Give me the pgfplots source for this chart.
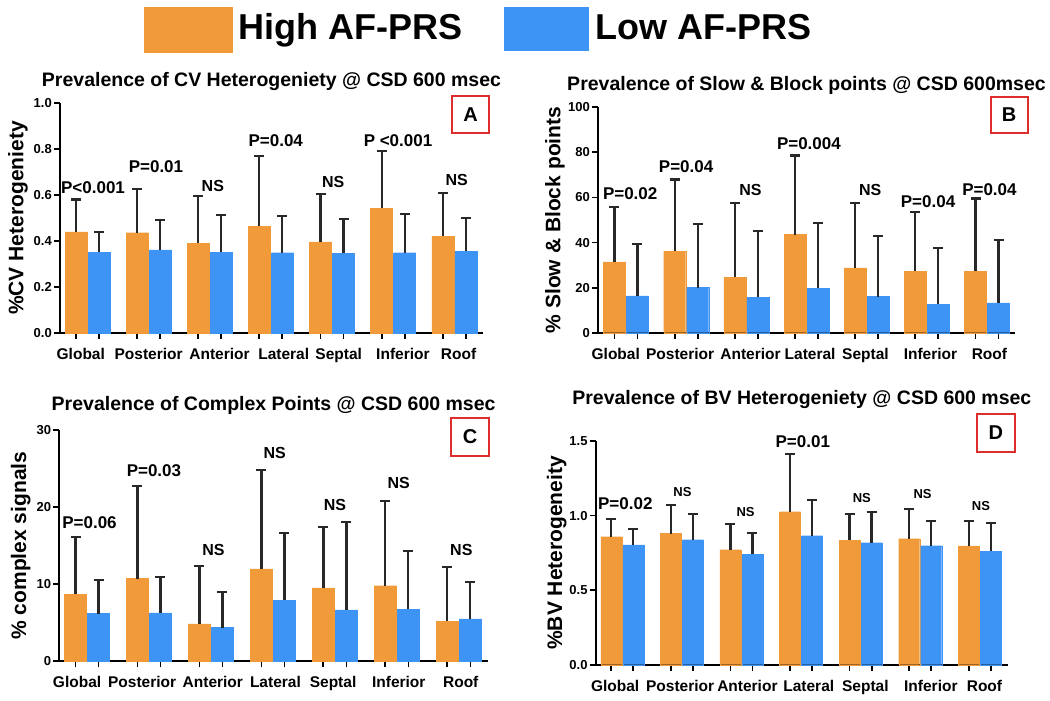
\documentclass[border=0pt]{standalone}
\usepackage{fontspec}
\setmainfont{Liberation Sans}
\usepackage{pgfplots}
\pgfplotsset{compat=1.18}
\definecolor{barorange}{RGB}{240,154,58}
\definecolor{barblue}{RGB}{62,148,245}
\definecolor{boxred}{RGB}{222,45,45}
\definecolor{errgray}{RGB}{40,40,40}
\newcommand{\fs}[1]{\fontsize{#1}{#1}\selectfont\bfseries}

\pgfplotsset{
  panel/.style={
    scale only axis,
    anchor=south west,
    axis lines=left,
    axis line style={line width=1.8pt, -},
    enlargelimits=false,
    clip=false,
    ymin=0,
    ybar=1pt,
    bar width=22pt,
    tick align=outside,
    major tick length=6pt,
    tick style={line width=1.8pt, black},
    xticklabels={},
    extra x tick labels={Global,Posterior,Anterior,Lateral,Septal,Inferior,Roof},
    extra x tick style={major tick length=0pt, grid=none},
    xticklabel style={anchor=north, inner sep=0pt, yshift=-15pt, font=\fs{15.5}},
    yticklabel style={anchor=east, inner sep=0pt, xshift=-2pt, font=\fs{13}},
    /pgf/number format/assume math mode=true,
    title style={at={(axis description cs:0.5,1)}, anchor=center, font=\fs{19.5}},
    ylabel style={anchor=center, font=\fs{21}},
  },
  ebars/.style={
    error bars/.cd, y dir=plus, y explicit,
    error bar style={draw=errgray, line width=2.2pt},
    error mark options={rotate=90, draw=errgray, line width=2.2pt, mark size=5pt},
  },
}

\begin{document}
\begin{tikzpicture}
\useasboundingbox (0,0) rectangle (1050pt,701pt);

% ---------- Legend ----------
\fill[barorange] (144pt,648pt) rectangle (233pt,694pt);
\node[anchor=base west, inner sep=0pt, font=\fs{36}] at (238pt,661pt) {High AF-PRS};
\fill[barblue] (504pt,650pt) rectangle (589pt,694pt);
\node[anchor=base west, inner sep=0pt, font=\fs{36}] at (595pt,661pt) {Low AF-PRS};

% ---------- Panel A ----------
\begin{axis}[panel, at={(60pt,368pt)}, width=423pt, height=230pt,
  xmin=-0.45, xmax=6.47, ymax=1,
  ytick={0,0.2,0.4,0.6,0.8,1.0},
  yticklabel style={/pgf/number format/.cd, fixed, fixed zerofill, precision=1},
  xtick={-0.188,0.188,0.812,1.188,1.812,2.188,2.812,3.188,3.812,4.188,4.812,5.188,5.812,6.188},
  extra x ticks={-0.11,1,2.16,3.21,4.11,5.16,6.07},
  title={Prevalence of CV Heterogeniety @ CSD 600 msec},
  title style={yshift=15pt},
  ylabel={\%CV Heterogeniety},
  ylabel style={at={(axis description cs:-0.0993,0.5)}},
]
\addplot[fill=barorange, draw=barorange, line width=0.3pt, ebars] coordinates {
 (0,0.440) +- (0,0.140)
 (1,0.436) +- (0,0.189)
 (2,0.391) +- (0,0.203)
 (3,0.464) +- (0,0.307)
 (4,0.396) +- (0,0.208)
 (5,0.543) +- (0,0.250)
 (6,0.420) +- (0,0.187)
};
\addplot[fill=barblue, draw=barblue, line width=0.3pt, ebars] coordinates {
 (0,0.351) +- (0,0.089)
 (1,0.361) +- (0,0.130)
 (2,0.351) +- (0,0.162)
 (3,0.349) +- (0,0.160)
 (4,0.346) +- (0,0.150)
 (5,0.349) +- (0,0.168)
 (6,0.355) +- (0,0.145)
};
\node[font=\fs{17}, inner sep=0pt] at (axis cs:0.09,0.63) {P<0.001};
\node[font=\fs{17}, inner sep=0pt] at (axis cs:1.12,0.725) {P=0.01};
\node[font=\fs{16}, inner sep=0pt] at (axis cs:2.05,0.64) {NS};
\node[font=\fs{17}, inner sep=0pt] at (axis cs:3.08,0.838) {P=0.04};
\node[font=\fs{16}, inner sep=0pt] at (axis cs:4.02,0.655) {NS};
\node[font=\fs{17}, inner sep=0pt] at (axis cs:5.08,0.838) {P <0.001};
\node[font=\fs{16}, inner sep=0pt] at (axis cs:6.04,0.664) {NS};
\end{axis}

% ---------- Panel B ----------
\begin{axis}[panel, at={(598pt,368.3pt)}, width=417pt, height=225.4pt,
  xmin=-0.465, xmax=6.465, ymax=100,
  ytick={0,20,40,60,80,100},
  xtick={-0.191,0.191,0.809,1.191,1.809,2.191,2.809,3.191,3.809,4.191,4.809,5.191,5.809,6.191},
  extra x ticks={-0.17,0.90,2.07,3.06,3.98,5.06,6.04},
  title={Prevalence of Slow \& Block points @ CSD 600msec},
  title style={yshift=16pt},
  ylabel={\% Slow \& Block points},
  ylabel style={at={(axis description cs:-0.103,0.5)}},
]
\addplot[fill=barorange, draw=barorange, line width=0.3pt, ebars] coordinates {
 (0,31.4) +- (0,24.5)
 (1,36.2) +- (0,31.8)
 (2,24.7) +- (0,33.0)
 (3,43.5) +- (0,35.1)
 (4,28.8) +- (0,28.6)
 (5,27.2) +- (0,26.4)
 (6,27.2) +- (0,32.3)
};
\addplot[fill=barblue, draw=barblue, line width=0.3pt, ebars] coordinates {
 (0,16.3) +- (0,23.2)
 (1,20.0) +- (0,28.1)
 (2,15.8) +- (0,29.3)
 (3,19.8) +- (0,29.0)
 (4,16.0) +- (0,27.0)
 (5,12.6) +- (0,24.8)
 (6,13.2) +- (0,27.8)
};
\node[font=\fs{17}, inner sep=0pt] at (axis cs:0.07,61.8) {P=0.02};
\node[font=\fs{17}, inner sep=0pt] at (axis cs:1.0,73.7) {P=0.04};
\node[font=\fs{16}, inner sep=0pt] at (axis cs:2.07,63.3) {NS};
\node[font=\fs{17}, inner sep=0pt] at (axis cs:3.04,84.0) {P=0.004};
\node[font=\fs{16}, inner sep=0pt] at (axis cs:4.06,63.3) {NS};
\node[font=\fs{17}, inner sep=0pt] at (axis cs:5.02,58.1) {P=0.04};
\node[font=\fs{17}, inner sep=0pt] at (axis cs:6.04,63.3) {P=0.04};
\end{axis}

% ---------- Panel C ----------
\begin{axis}[panel, at={(59.3pt,39.7pt)}, width=428.7pt, height=231.3pt,
  xmin=-0.447, xmax=6.47, ymax=30,
  ytick={0,10,20,30},
  xtick={-0.186,0.186,0.814,1.186,1.814,2.186,2.814,3.186,3.814,4.186,4.814,5.186,5.814,6.186},
  extra x ticks={-0.16,0.89,2.03,3.04,3.97,5.03,6.03},
  title={Prevalence of Complex Points @ CSD 600 msec},
  title style={yshift=19pt},
  ylabel={\% complex signals},
  ylabel style={at={(axis description cs:-0.090,0.5)}},
]
\addplot[fill=barorange, draw=barorange, line width=0.3pt, ebars] coordinates {
 (0,8.69) +- (0,7.39)
 (1,10.72) +- (0,11.98)
 (2,4.84) +- (0,7.48)
 (3,11.98) +- (0,12.82)
 (4,9.51) +- (0,7.87)
 (5,9.81) +- (0,10.94)
 (6,5.19) +- (0,7.05)
};
\addplot[fill=barblue, draw=barblue, line width=0.3pt, ebars] coordinates {
 (0,6.18) +- (0,4.32)
 (1,6.27) +- (0,4.67)
 (2,4.37) +- (0,4.58)
 (3,7.91) +- (0,8.74)
 (4,6.66) +- (0,11.37)
 (5,6.74) +- (0,7.53)
 (6,5.49) +- (0,4.76)
};
\node[font=\fs{17}, inner sep=0pt] at (axis cs:0.04,17.98) {P=0.06};
\node[font=\fs{17}, inner sep=0pt] at (axis cs:1.08,24.7) {P=0.03};
\node[font=\fs{16}, inner sep=0pt] at (axis cs:2.04,14.44) {NS};
\node[font=\fs{16}, inner sep=0pt] at (axis cs:3.03,27.07) {NS};
\node[font=\fs{16}, inner sep=0pt] at (axis cs:4.0,20.28) {NS};
\node[font=\fs{16}, inner sep=0pt] at (axis cs:5.03,23.09) {NS};
\node[font=\fs{16}, inner sep=0pt] at (axis cs:6.04,14.44) {NS};
\end{axis}

% ---------- Panel D ----------
\begin{axis}[panel, at={(595.7pt,36.3pt)}, width=412.3pt, height=223.7pt,
  xmin=-0.447, xmax=6.475, ymax=1.5,
  bar width=21pt,
  ytick={0,0.5,1.0,1.5},
  yticklabel style={/pgf/number format/.cd, fixed, fixed zerofill, precision=1},
  xtick={-0.185,0.185,0.815,1.185,1.815,2.185,2.815,3.185,3.815,4.185,4.815,5.185,5.815,6.185},
  extra x ticks={-0.12,0.97,2.10,3.13,4.08,5.18,6.08},
  title={Prevalence of BV Heterogeniety @ CSD 600 msec},
  title style={yshift=35pt},
  ylabel={\%BV Heterogeneity},
  ylabel style={at={(axis description cs:-0.0946,0.5)}},
]
\addplot[fill=barorange, draw=barorange, line width=0.3pt, ebars] coordinates {
 (0,0.858) +- (0,0.119)
 (1,0.879) +- (0,0.194)
 (2,0.771) +- (0,0.170)
 (3,1.026) +- (0,0.385)
 (4,0.836) +- (0,0.174)
 (5,0.845) +- (0,0.197)
 (6,0.796) +- (0,0.165)
};
\addplot[fill=barblue, draw=barblue, line width=0.3pt, ebars] coordinates {
 (0,0.803) +- (0,0.105)
 (1,0.838) +- (0,0.172)
 (2,0.740) +- (0,0.145)
 (3,0.865) +- (0,0.242)
 (4,0.818) +- (0,0.208)
 (5,0.798) +- (0,0.168)
 (6,0.760) +- (0,0.192)
};
\node[font=\fs{17}, inner sep=0pt] at (axis cs:0.05,1.082) {P=0.02};
\node[font=\fs{13}, inner sep=0pt] at (axis cs:1.01,1.156) {NS};
\node[font=\fs{13}, inner sep=0pt] at (axis cs:2.07,1.022) {NS};
\node[font=\fs{17}, inner sep=0pt] at (axis cs:3.03,1.496) {P=0.01};
\node[font=\fs{13}, inner sep=0pt] at (axis cs:4.02,1.12) {NS};
\node[font=\fs{13}, inner sep=0pt] at (axis cs:5.04,1.142) {NS};
\node[font=\fs{13}, inner sep=0pt] at (axis cs:6.02,1.066) {NS};
\end{axis}

% ---------- Panel letters ----------
\draw[boxred, line width=1.7pt] (452pt,568pt) rectangle (489pt,605pt);
\node[font=\fs{20}] at (470.5pt,586.5pt) {A};
\draw[boxred, line width=1.7pt] (990.7pt,568pt) rectangle (1027.7pt,604.3pt);
\node[font=\fs{20}] at (1009.2pt,586.2pt) {B};
\draw[boxred, line width=1.7pt] (451pt,245pt) rectangle (489pt,283.3pt);
\node[font=\fs{20}] at (470pt,264.2pt) {C};
\draw[boxred, line width=1.7pt] (976.7pt,249.3pt) rectangle (1015pt,287pt);
\node[font=\fs{20}] at (995.8pt,268.2pt) {D};
\end{tikzpicture}
\end{document}
